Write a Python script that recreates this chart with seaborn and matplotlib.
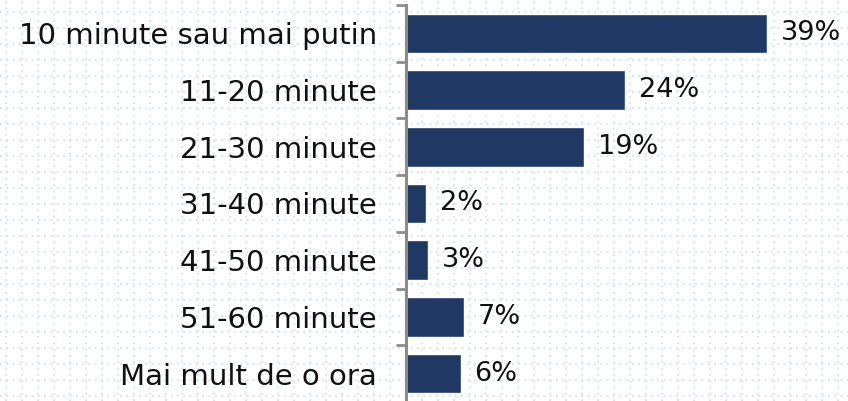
import matplotlib
matplotlib.use("Agg")
import matplotlib.pyplot as plt
import seaborn as sns
import numpy as np
import pandas as pd

categories = ["10 minute sau mai putin", "11-20 minute", "21-30 minute",
              "31-40 minute", "41-50 minute", "51-60 minute", "Mai mult de o ora"]
values = [39.0, 23.7, 19.2, 2.2, 2.4, 6.3, 5.9]
value_labels = ["39%", "24%", "19%", "2%", "3%", "7%", "6%"]

sns.set_theme(style="white")
plt.rcParams['font.family'] = ['DejaVu Sans']

W, H = 848, 401
fig = plt.figure(figsize=(W / 100, H / 100), dpi=100)
fig.patch.set_facecolor("white")

# background graph-paper dotted grid
bg = fig.add_axes([0, 0, 1, 1], zorder=0)
bg.set_xlim(0, W)
bg.set_ylim(H, 0)
bg.set_xticks(np.arange(6, W, 16))
bg.set_yticks(np.arange(12, H, 16))
bg.grid(True, color="#d3e2f1", linestyle=(0, (1, 2.5)), linewidth=1.3)
bg.tick_params(length=0, labelbottom=False, labelleft=False)
for s in bg.spines.values():
    s.set_visible(False)

df = pd.DataFrame({"cat": categories, "val": values})

ax = fig.add_axes([406 / W, -1 / H, (W - 406) / W, 397 / H], zorder=1)
ax.patch.set_alpha(0)
sns.barplot(data=df, y="cat", x="val", color="#1f3864", saturation=1,
            width=0.7, ax=ax, orient="h")
ax.set_xlim(0, (W - 406) / 9.26)
ax.set_ylim(len(categories) - 0.5, -0.5)
ax.bar_label(ax.containers[0], labels=value_labels, padding=10,
             fontsize=19.5, color="#111111")
ax.set_xlabel("")
ax.set_ylabel("")
ax.set_xticks([])
ax.tick_params(axis="y", which="major", left=False, length=0, pad=21,
               labelsize=21, labelcolor="#111111")
ax.set_yticks(np.arange(-0.5, len(categories), 1), minor=True)
ax.tick_params(axis="y", which="minor", left=True, length=7, width=2,
               color="#8c8c8c", direction="out")
for side in ["top", "right", "bottom"]:
    ax.spines[side].set_visible(False)
ax.spines["left"].set_color("#8c8c8c")
ax.spines["left"].set_linewidth(2.2)

fig.savefig("out.png", dpi=100)
